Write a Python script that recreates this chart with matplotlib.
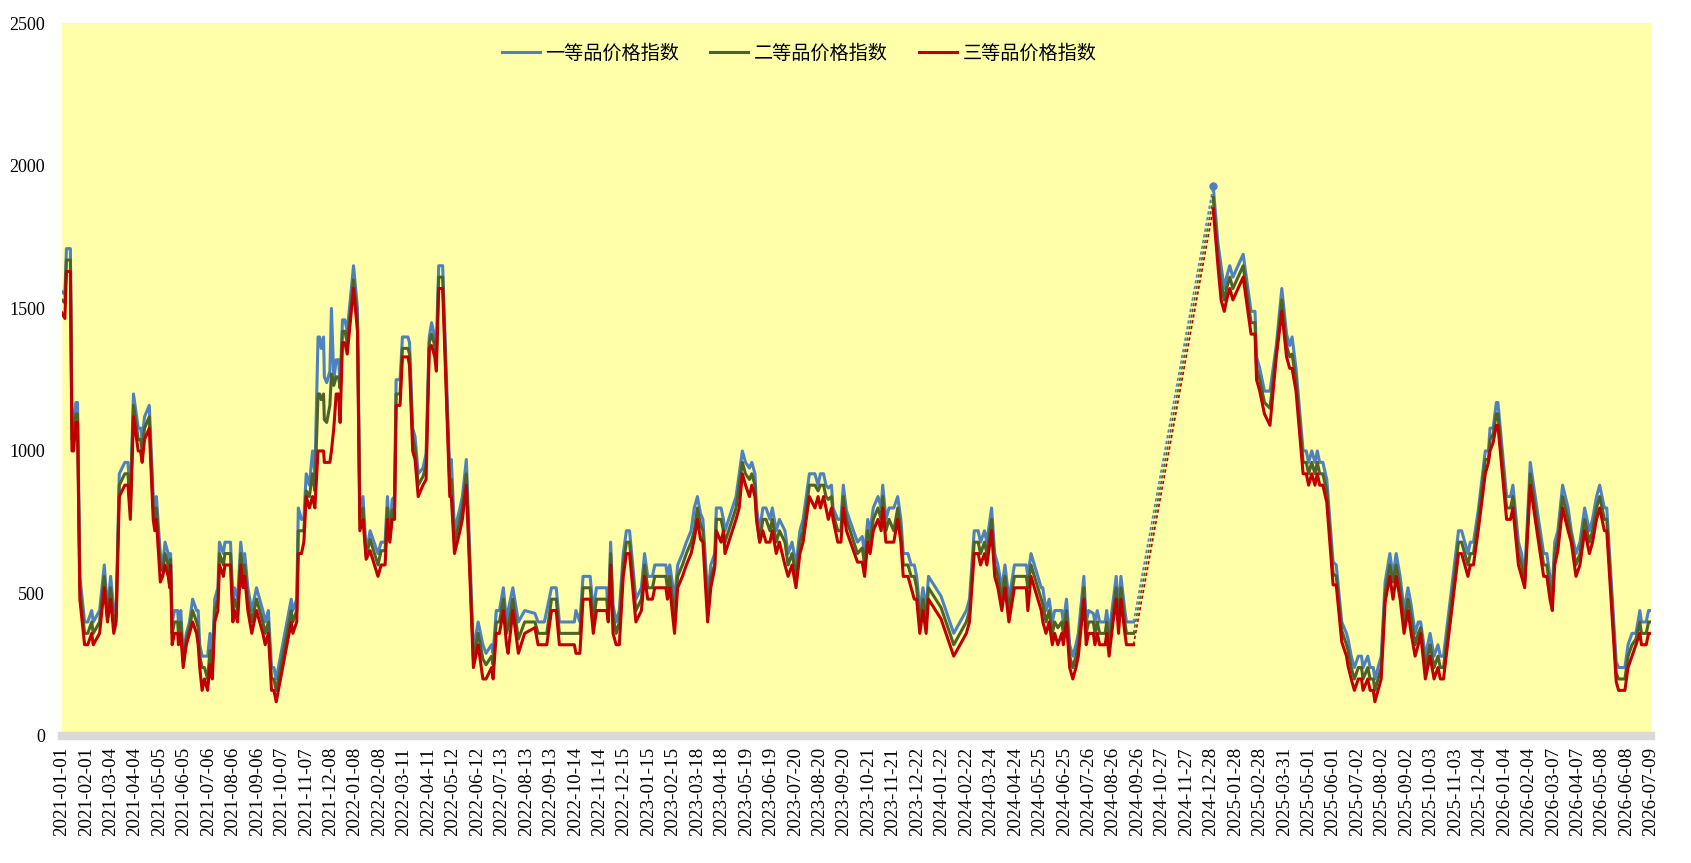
import matplotlib
matplotlib.use("Agg")
import matplotlib.pyplot as plt
import numpy as np
import pandas as pd

# price index readings (irregular dates, gap between 2024-09 and 2024-12)
dates = [
    # 2021
    '2021-01-01', '2021-01-05', '2021-01-07', '2021-01-12', '2021-01-14', '2021-01-16', '2021-01-19', '2021-01-21', '2021-01-24', '2021-01-27',
    '2021-01-30', '2021-02-03', '2021-02-08', '2021-02-10', '2021-02-18', '2021-02-24', '2021-02-28', '2021-03-04', '2021-03-08', '2021-03-11',
    '2021-03-15', '2021-03-22', '2021-03-26', '2021-03-29', '2021-04-02', '2021-04-08', '2021-04-11', '2021-04-13', '2021-04-16', '2021-04-22',
    '2021-04-27', '2021-04-29', '2021-05-01', '2021-05-06', '2021-05-09', '2021-05-12', '2021-05-16', '2021-05-18', '2021-05-19', '2021-05-21',
    '2021-05-24', '2021-05-28', '2021-05-29', '2021-06-01', '2021-06-04', '2021-06-08', '2021-06-12', '2021-06-16', '2021-06-21', '2021-06-23',
    '2021-06-25', '2021-06-28', '2021-07-01', '2021-07-05', '2021-07-08', '2021-07-11', '2021-07-14', '2021-07-18', '2021-07-20', '2021-07-25',
    '2021-07-27', '2021-08-03', '2021-08-06', '2021-08-08', '2021-08-12', '2021-08-16', '2021-08-19', '2021-08-21', '2021-08-25', '2021-08-30',
    '2021-09-05', '2021-09-09', '2021-09-13', '2021-09-16', '2021-09-20', '2021-09-24', '2021-09-27', '2021-09-30', '2021-10-19', '2021-10-21',
    '2021-10-26', '2021-10-28', '2021-11-01', '2021-11-04', '2021-11-07', '2021-11-11', '2021-11-15', '2021-11-18', '2021-11-22', '2021-11-24',
    '2021-11-26', '2021-11-29', '2021-11-30', '2021-12-03', '2021-12-07', '2021-12-09', '2021-12-12', '2021-12-15', '2021-12-18', '2021-12-20',
    '2021-12-23', '2021-12-26', '2021-12-29',
    # 2022
    '2022-01-06', '2022-01-11', '2022-01-14', '2022-01-18', '2022-01-22', '2022-01-27', '2022-02-06', '2022-02-10', '2022-02-15', '2022-02-18',
    '2022-02-21', '2022-02-24', '2022-02-27', '2022-03-01', '2022-03-06', '2022-03-09', '2022-03-16', '2022-03-18', '2022-03-22', '2022-03-25',
    '2022-03-29', '2022-04-04', '2022-04-08', '2022-04-12', '2022-04-15', '2022-04-19', '2022-04-21', '2022-04-24', '2022-04-29', '2022-05-08',
    '2022-05-10', '2022-05-14', '2022-05-21', '2022-05-24', '2022-05-29', '2022-06-07', '2022-06-13', '2022-06-19', '2022-06-23', '2022-06-30',
    '2022-07-02', '2022-07-06', '2022-07-10', '2022-07-15', '2022-07-19', '2022-07-21', '2022-07-27', '2022-08-03', '2022-08-11', '2022-08-24',
    '2022-08-28', '2022-09-05', '2022-09-08', '2022-09-14', '2022-09-20', '2022-09-24', '2022-10-13', '2022-10-15', '2022-10-20', '2022-10-24',
    '2022-11-02', '2022-11-06', '2022-11-10', '2022-11-23', '2022-11-25', '2022-11-28', '2022-12-01', '2022-12-05', '2022-12-09', '2022-12-14',
    '2022-12-18', '2022-12-22', '2022-12-30',
    # 2023
    '2023-01-06', '2023-01-10', '2023-01-14', '2023-01-20', '2023-01-23', '2023-02-06', '2023-02-08', '2023-02-11', '2023-02-17', '2023-02-21',
    '2023-02-27', '2023-03-04', '2023-03-10', '2023-03-14', '2023-03-18', '2023-03-22', '2023-03-25', '2023-03-31', '2023-04-04', '2023-04-09',
    '2023-04-11', '2023-04-17', '2023-04-20', '2023-04-22', '2023-05-06', '2023-05-10', '2023-05-14', '2023-05-18', '2023-05-23', '2023-05-26',
    '2023-05-30', '2023-06-01', '2023-06-05', '2023-06-09', '2023-06-13', '2023-06-18', '2023-06-21', '2023-06-26', '2023-06-30', '2023-07-07',
    '2023-07-11', '2023-07-16', '2023-07-21', '2023-07-26', '2023-07-30', '2023-08-03', '2023-08-07', '2023-08-14', '2023-08-18', '2023-08-21',
    '2023-08-25', '2023-08-28', '2023-08-31', '2023-09-04', '2023-09-06', '2023-09-12', '2023-09-16', '2023-09-19', '2023-09-23', '2023-10-07',
    '2023-10-13', '2023-10-16', '2023-10-20', '2023-10-23', '2023-10-27', '2023-11-02', '2023-11-06', '2023-11-08', '2023-11-12', '2023-11-16',
    '2023-11-22', '2023-11-27', '2023-12-01', '2023-12-04', '2023-12-10', '2023-12-14', '2023-12-18', '2023-12-21', '2023-12-25', '2023-12-29',
    # 2024
    '2024-01-02', '2024-01-05', '2024-01-21', '2024-02-06', '2024-02-22', '2024-02-26', '2024-03-03', '2024-03-08', '2024-03-11', '2024-03-16',
    '2024-03-19', '2024-03-21', '2024-03-25', '2024-03-29', '2024-04-02', '2024-04-07', '2024-04-11', '2024-04-16', '2024-04-23', '2024-05-08',
    '2024-05-10', '2024-05-14', '2024-05-27', '2024-05-29', '2024-06-02', '2024-06-06', '2024-06-10', '2024-06-13', '2024-06-17', '2024-06-22',
    '2024-06-24', '2024-06-28', '2024-07-02', '2024-07-06', '2024-07-10', '2024-07-13', '2024-07-20', '2024-07-23', '2024-07-26', '2024-08-01',
    '2024-08-03', '2024-08-06', '2024-08-09', '2024-08-16', '2024-08-18', '2024-08-21', '2024-08-26', '2024-08-30', '2024-09-02', '2024-09-05',
    '2024-09-10', '2024-09-12', '2024-09-21', '2024-12-31',
    # 2025
    '2025-01-06', '2025-01-10', '2025-01-14', '2025-01-17', '2025-01-21', '2025-01-25', '2025-02-07', '2025-02-11', '2025-02-15', '2025-02-17',
    '2025-02-22', '2025-02-24', '2025-02-28', '2025-03-06', '2025-03-13', '2025-03-21', '2025-03-28', '2025-04-03', '2025-04-07', '2025-04-10',
    '2025-04-15', '2025-04-24', '2025-04-28', '2025-05-01', '2025-05-05', '2025-05-09', '2025-05-12', '2025-05-15', '2025-05-19', '2025-05-24',
    '2025-06-01', '2025-06-05', '2025-06-12', '2025-06-18', '2025-06-20', '2025-06-24', '2025-06-28', '2025-07-03', '2025-07-07', '2025-07-09',
    '2025-07-15', '2025-07-18', '2025-07-22', '2025-07-24', '2025-07-28', '2025-08-01', '2025-08-06', '2025-08-12', '2025-08-16', '2025-08-20',
    '2025-08-25', '2025-08-30', '2025-09-04', '2025-09-08', '2025-09-13', '2025-09-17', '2025-09-20', '2025-09-26', '2025-10-02', '2025-10-07',
    '2025-10-12', '2025-10-15', '2025-10-19', '2025-11-07', '2025-11-11', '2025-11-15', '2025-11-19', '2025-11-22', '2025-11-26', '2025-12-02',
    '2025-12-11', '2025-12-15', '2025-12-17', '2025-12-21', '2025-12-25', '2025-12-27',
    # 2026
    '2026-01-07', '2026-01-12', '2026-01-15', '2026-01-22', '2026-01-26', '2026-01-30', '2026-02-06', '2026-02-16', '2026-02-23', '2026-02-27',
    '2026-03-03', '2026-03-06', '2026-03-09', '2026-03-13', '2026-03-19', '2026-03-26', '2026-03-30', '2026-04-05', '2026-04-10', '2026-04-16',
    '2026-04-22', '2026-04-26', '2026-05-01', '2026-05-05', '2026-05-11', '2026-05-14', '2026-05-26', '2026-05-29', '2026-06-06', '2026-06-10',
    '2026-06-15', '2026-06-20', '2026-06-25', '2026-06-27', '2026-07-03', '2026-07-06', '2026-07-09',
]

grade1 = [
    # 2021
    1560, 1550, 1710, 1710, 1080, 1100, 1170, 1170, 560, 480,
    400, 400, 440, 400, 440, 600, 440, 560, 440, 440,
    920, 960, 960, 840, 1200, 1080, 1080, 1040, 1120, 1160,
    840, 800, 840, 640, 600, 680, 640, 600, 640, 400,
    440, 440, 400, 440, 280, 360, 400, 480, 440, 440,
    320, 280, 280, 280, 360, 280, 480, 520, 680, 640,
    680, 680, 480, 520, 480, 680, 600, 640, 520, 440,
    520, 480, 440, 400, 440, 240, 240, 200, 480, 440,
    480, 800, 760, 760, 920, 880, 1000, 920, 1400, 1400,
    1360, 1400, 1260, 1240, 1280, 1500, 1250, 1320, 1320, 1240,
    1460, 1460, 1420,
    # 2022
    1650, 1500, 800, 840, 640, 720, 640, 680, 680, 840,
    700, 830, 840, 1250, 1250, 1400, 1400, 1380, 1080, 1050,
    920, 940, 990, 1400, 1450, 1400, 1370, 1650, 1650, 920,
    970, 720, 800, 840, 970, 300, 400, 320, 290, 320,
    290, 440, 440, 520, 400, 440, 520, 400, 440, 430,
    400, 400, 440, 520, 520, 400, 400, 440, 400, 560,
    560, 440, 520, 520, 420, 680, 460, 400, 440, 640,
    720, 720, 480,
    # 2023
    520, 640, 560, 560, 600, 600, 560, 600, 480, 600,
    640, 680, 720, 800, 840, 780, 760, 490, 600, 640,
    800, 800, 760, 720, 840, 920, 1000, 960, 940, 960,
    920, 800, 720, 800, 800, 760, 800, 720, 760, 720,
    640, 680, 600, 720, 760, 840, 920, 920, 880, 920,
    920, 880, 870, 880, 800, 760, 760, 880, 790, 680,
    700, 640, 760, 720, 800, 840, 800, 880, 760, 800,
    800, 840, 760, 640, 640, 600, 600, 560, 440, 520,
    # 2024
    440, 560, 490, 360, 440, 480, 720, 720, 680, 720,
    680, 720, 800, 640, 600, 520, 600, 480, 600, 600,
    560, 640, 520, 520, 440, 480, 400, 440, 440, 440,
    400, 480, 320, 280, 320, 360, 560, 400, 440, 430,
    400, 440, 400, 400, 440, 360, 470, 560, 440, 560,
    440, 400, 400, 1930,
    # 2025
    1730, 1650, 1570, 1610, 1650, 1610, 1690, 1610, 1530, 1490,
    1490, 1330, 1290, 1210, 1210, 1370, 1570, 1410, 1370, 1400,
    1290, 1000, 1000, 960, 1000, 960, 1000, 960, 960, 900,
    610, 600, 400, 360, 340, 280, 240, 280, 280, 240,
    280, 240, 240, 200, 240, 280, 540, 640, 560, 640,
    560, 440, 520, 460, 360, 400, 400, 280, 360, 280,
    320, 280, 280, 720, 720, 680, 640, 680, 680, 790,
    1000, 1000, 1080, 1080, 1170, 1170,
    # 2026
    840, 840, 880, 680, 640, 560, 960, 770, 640, 640,
    560, 520, 680, 720, 880, 800, 720, 640, 680, 800,
    720, 760, 840, 880, 800, 800, 260, 240, 240, 320,
    360, 360, 440, 400, 400, 440, 440,
]

grade2 = [
    # 2021
    1530, 1520, 1670, 1670, 1040, 1060, 1130, 1130, 520, 440,
    360, 360, 400, 360, 400, 560, 420, 520, 400, 420,
    880, 920, 920, 800, 1160, 1040, 1040, 1000, 1080, 1120,
    800, 760, 800, 600, 580, 640, 600, 560, 620, 360,
    400, 400, 360, 400, 260, 340, 380, 440, 400, 380,
    280, 240, 240, 200, 300, 240, 440, 480, 640, 600,
    640, 640, 440, 480, 440, 640, 560, 600, 480, 400,
    480, 440, 400, 360, 400, 200, 200, 160, 440, 400,
    440, 720, 720, 720, 860, 840, 920, 860, 1200, 1200,
    1180, 1200, 1110, 1100, 1160, 1270, 1230, 1260, 1260, 1220,
    1420, 1420, 1380,
    # 2022
    1600, 1460, 760, 800, 630, 690, 600, 650, 650, 800,
    690, 790, 800, 1200, 1200, 1360, 1360, 1340, 1050, 1010,
    880, 910, 950, 1380, 1410, 1370, 1330, 1610, 1610, 880,
    900, 680, 760, 800, 920, 270, 360, 270, 250, 280,
    250, 400, 400, 480, 360, 380, 480, 340, 400, 400,
    360, 360, 360, 480, 480, 360, 360, 360, 360, 520,
    520, 400, 480, 480, 410, 640, 420, 360, 400, 600,
    680, 680, 440,
    # 2023
    480, 600, 520, 520, 560, 560, 520, 560, 420, 560,
    600, 640, 680, 720, 800, 740, 720, 440, 560, 600,
    760, 760, 720, 680, 800, 880, 960, 920, 900, 920,
    880, 760, 680, 760, 760, 720, 760, 680, 720, 680,
    600, 640, 560, 680, 720, 800, 880, 880, 860, 880,
    880, 840, 830, 840, 780, 720, 720, 840, 760, 640,
    660, 600, 720, 680, 760, 800, 760, 840, 720, 760,
    720, 800, 720, 600, 600, 560, 560, 520, 400, 480,
    # 2024
    400, 520, 450, 320, 400, 440, 680, 680, 640, 680,
    640, 680, 760, 600, 560, 480, 560, 440, 560, 560,
    520, 600, 480, 460, 400, 440, 360, 400, 380, 400,
    360, 440, 280, 240, 280, 320, 520, 360, 400, 400,
    360, 400, 360, 360, 400, 320, 430, 520, 400, 520,
    400, 360, 360, 1890,
    # 2025
    1690, 1590, 1530, 1570, 1610, 1570, 1650, 1570, 1490, 1450,
    1450, 1290, 1250, 1170, 1150, 1350, 1530, 1370, 1330, 1340,
    1250, 960, 960, 920, 960, 920, 960, 920, 920, 860,
    570, 560, 370, 320, 300, 240, 200, 240, 240, 200,
    240, 200, 200, 160, 200, 240, 500, 600, 540, 600,
    520, 400, 480, 420, 320, 360, 380, 240, 320, 240,
    280, 240, 240, 680, 680, 640, 600, 640, 640, 760,
    970, 970, 1040, 1060, 1130, 1130,
    # 2026
    800, 800, 840, 640, 600, 540, 920, 730, 600, 600,
    520, 480, 640, 690, 840, 760, 700, 600, 640, 760,
    680, 720, 800, 840, 760, 760, 220, 200, 200, 280,
    320, 340, 400, 360, 360, 400, 400,
]

grade3 = [
    # 2021
    1485, 1465, 1630, 1630, 1000, 1000, 1100, 1100, 480, 400,
    320, 320, 360, 320, 360, 520, 400, 480, 360, 400,
    840, 880, 880, 760, 1120, 1000, 1000, 960, 1040, 1080,
    760, 720, 760, 540, 560, 600, 560, 520, 600, 320,
    360, 360, 320, 360, 240, 320, 360, 400, 360, 320,
    240, 160, 200, 160, 250, 200, 400, 440, 600, 560,
    600, 600, 400, 440, 400, 600, 520, 560, 440, 360,
    440, 400, 360, 320, 360, 160, 160, 120, 400, 360,
    400, 640, 640, 680, 840, 800, 840, 800, 1000, 1000,
    1000, 1000, 960, 960, 960, 1000, 1080, 1200, 1200, 1100,
    1380, 1380, 1340,
    # 2022
    1570, 1420, 720, 760, 620, 650, 560, 600, 600, 760,
    680, 760, 760, 1160, 1160, 1330, 1330, 1300, 1000, 970,
    840, 880, 900, 1360, 1370, 1330, 1280, 1570, 1570, 840,
    840, 640, 720, 760, 880, 240, 320, 200, 200, 240,
    200, 360, 360, 440, 320, 290, 440, 290, 360, 380,
    320, 320, 320, 440, 440, 320, 320, 290, 290, 480,
    480, 360, 440, 440, 400, 600, 360, 320, 320, 560,
    640, 640, 400,
    # 2023
    440, 560, 480, 480, 520, 520, 480, 520, 360, 520,
    560, 600, 640, 690, 760, 690, 680, 400, 520, 590,
    720, 680, 720, 640, 760, 800, 920, 880, 840, 880,
    840, 760, 680, 720, 680, 680, 720, 640, 680, 600,
    560, 600, 520, 640, 680, 760, 840, 800, 840, 800,
    840, 800, 760, 800, 760, 680, 680, 800, 720, 610,
    610, 560, 680, 640, 720, 760, 720, 800, 680, 680,
    680, 760, 680, 560, 560, 520, 480, 480, 360, 440,
    # 2024
    360, 480, 410, 280, 360, 400, 640, 640, 600, 640,
    600, 640, 720, 560, 520, 440, 520, 400, 520, 520,
    440, 560, 440, 400, 360, 400, 320, 360, 320, 360,
    320, 400, 240, 200, 240, 280, 480, 320, 360, 360,
    320, 360, 320, 320, 360, 280, 400, 480, 360, 480,
    360, 320, 320, 1850,
    # 2025
    1650, 1530, 1490, 1530, 1570, 1530, 1610, 1530, 1450, 1410,
    1410, 1250, 1210, 1130, 1090, 1330, 1490, 1330, 1290, 1290,
    1210, 920, 920, 880, 920, 880, 920, 880, 880, 820,
    530, 530, 330, 280, 245, 200, 160, 200, 200, 160,
    200, 160, 160, 120, 160, 200, 470, 560, 480, 560,
    480, 360, 440, 360, 280, 320, 360, 200, 280, 200,
    240, 200, 200, 640, 640, 600, 560, 600, 600, 720,
    920, 960, 1000, 1030, 1090, 1090,
    # 2026
    760, 760, 800, 600, 560, 520, 880, 690, 560, 560,
    480, 440, 600, 650, 800, 720, 680, 560, 600, 720,
    640, 680, 760, 800, 720, 720, 190, 160, 160, 240,
    280, 320, 360, 320, 320, 360, 360,
]

labels = ['一等品价格指数', '二等品价格指数', '三等品价格指数']
colors = ['#4F81BD', '#4F6228', '#C00000']

x = pd.to_datetime(dates)
# missing stretch before the Dec 2024 point is drawn dotted
step = np.diff(x.values).astype('timedelta64[D]').astype(int)
gap = int(np.argmax(step > 60)) + 1

fig = plt.figure(figsize=(16.91, 8.63), dpi=100)
ax = fig.add_axes([0.0365, 0.1472, 0.9398, 0.8256])
ax.set_facecolor('#FFFFAA')

for vals, c, lab in zip([grade1, grade2, grade3], colors, labels):
    v = np.array(vals)
    ax.plot(x[:gap], v[:gap], color=c, lw=2.2, label=lab)
    ax.plot(x[gap - 1:gap + 1], v[gap - 1:gap + 1], color=c, lw=1.2, ls=(0, (2, 1.5)))
    ax.plot(x[gap:], v[gap:], color=c, lw=2.2)
ax.plot(x[gap], grade1[gap], 'o', color=colors[0], ms=5)

ticks = pd.date_range('2021-01-01', '2026-07-09', freq='31D')
ax.set_xticks(ticks.to_pydatetime())
ax.set_xticklabels([t.strftime('%Y-%m-%d') for t in ticks], rotation=90,
                   fontfamily='Liberation Serif', fontsize=13.8)
ax.set_xlim(pd.Timestamp('2021-01-01'), pd.Timestamp('2026-07-09'))
ax.set_ylim(0, 2500)
ax.set_yticks(range(0, 2501, 500))
ax.set_yticklabels([str(t) for t in range(0, 2501, 500)],
                   fontfamily='Liberation Serif', fontsize=13)
ax.tick_params(axis='x', length=0, pad=8)
ax.tick_params(axis='y', length=0, pad=12)

for s in ['top', 'right', 'left']:
    ax.spines[s].set_visible(False)
ax.spines['bottom'].set_color('#D9D9D9')
ax.spines['bottom'].set_linewidth(6)

ax.legend(loc='center', bbox_to_anchor=(0.464, 0.958), ncol=3, frameon=False,
          prop={'family': 'Noto Sans CJK SC', 'size': 13.8},
          handlelength=2.0, handletextpad=0.3, columnspacing=1.6)

fig.savefig('out.png', dpi=100)
